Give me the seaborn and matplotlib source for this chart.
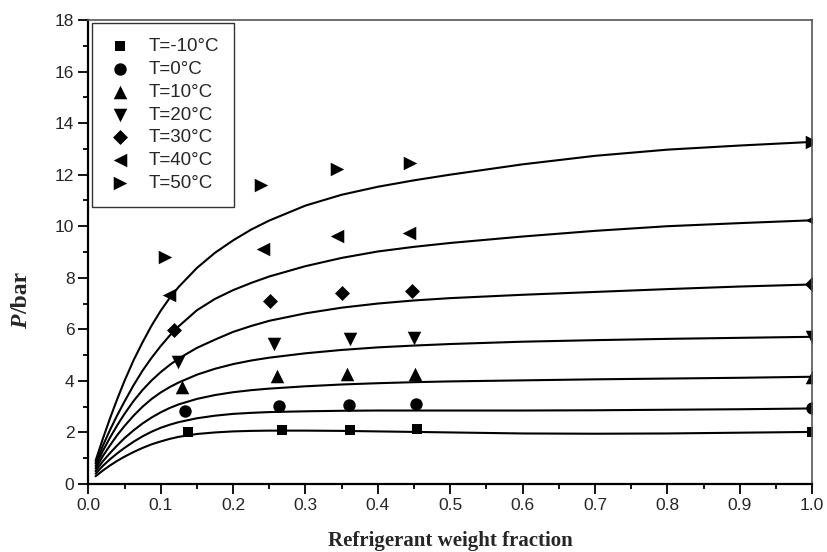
import numpy as np
import pandas as pd
import matplotlib
matplotlib.use("Agg")
import matplotlib.pyplot as plt
import seaborn as sns

# measured points (refrigerant weight fraction, pressure in bar)
temps = ["T=-10°C", "T=0°C", "T=10°C", "T=20°C", "T=30°C", "T=40°C", "T=50°C"]
markers = ["s", "o", "^", "v", "D", "<", ">"]
msizes = [62, 80, 95, 95, 58, 95, 95]

x_m10 = [0.138, 0.268, 0.362, 0.454, 1.0]
p_m10 = [2.0, 2.1, 2.1, 2.15, 2.03]
x_0 = [0.134, 0.264, 0.360, 0.453, 1.0]
p_0 = [2.82, 3.03, 3.05, 3.1, 2.93]
x_10 = [0.130, 0.261, 0.357, 0.452, 1.0]
p_10 = [3.75, 4.18, 4.25, 4.28, 4.16]
x_20 = [0.124, 0.256, 0.361, 0.450, 1.0]
p_20 = [4.74, 5.43, 5.62, 5.65, 5.69]
x_30 = [0.119, 0.251, 0.350, 0.447, 1.0]
p_30 = [5.97, 7.10, 7.39, 7.49, 7.74]
x_40 = [0.111, 0.242, 0.344, 0.443, 1.0]
p_40 = [7.33, 9.13, 9.61, 9.72, 10.23]
x_50 = [0.106, 0.238, 0.343, 0.444, 1.0]
p_50 = [8.79, 11.59, 12.2, 12.47, 13.27]

# model curves
curve_x = [0.01, 0.02, 0.03, 0.04, 0.05, 0.0625, 0.075, 0.0875, 0.1, 0.1125,
           0.125, 0.15, 0.175, 0.2, 0.225, 0.25, 0.3, 0.35, 0.4, 0.45,
           0.5, 0.6, 0.7, 0.8, 0.9, 1.0]
c_m10 = [0.3, 0.52, 0.72, 0.9, 1.06, 1.24, 1.4, 1.54, 1.65, 1.75,
         1.83, 1.94, 2.0, 2.04, 2.06, 2.07, 2.07, 2.06, 2.04, 2.02,
         2.0, 1.96, 1.95, 1.96, 1.99, 2.02]
c_0 = [0.4, 0.7, 0.96, 1.19, 1.4, 1.64, 1.85, 2.03, 2.18, 2.3,
       2.4, 2.55, 2.65, 2.72, 2.76, 2.79, 2.82, 2.84, 2.85, 2.85,
       2.85, 2.85, 2.86, 2.88, 2.9, 2.93]
c_10 = [0.5, 0.88, 1.2, 1.5, 1.78, 2.08, 2.35, 2.58, 2.78, 2.95,
        3.09, 3.3, 3.45, 3.56, 3.64, 3.7, 3.79, 3.86, 3.91, 3.95,
        3.98, 4.02, 4.06, 4.09, 4.12, 4.16]
c_20 = [0.6, 1.08, 1.5, 1.9, 2.25, 2.65, 3.0, 3.3, 3.55, 3.76,
        3.94, 4.24, 4.47, 4.65, 4.79, 4.9, 5.07, 5.2, 5.3, 5.37,
        5.43, 5.52, 5.58, 5.63, 5.67, 5.71]
c_30 = [0.7, 1.28, 1.8, 2.28, 2.72, 3.22, 3.65, 4.02, 4.34, 4.62,
        4.87, 5.28, 5.6, 5.9, 6.13, 6.33, 6.62, 6.84, 7.0, 7.12,
        7.21, 7.34, 7.45, 7.56, 7.66, 7.74]
c_40 = [0.8, 1.48, 2.1, 2.67, 3.2, 3.83, 4.4, 4.9, 5.35, 5.76,
        6.12, 6.74, 7.18, 7.52, 7.8, 8.05, 8.45, 8.77, 9.02, 9.2,
        9.35, 9.6, 9.82, 10.0, 10.12, 10.23]
c_50 = [0.9, 1.75, 2.55, 3.3, 4.0, 4.8, 5.5, 6.15, 6.72, 7.22,
        7.65, 8.38, 8.97, 9.45, 9.87, 10.22, 10.8, 11.22, 11.53, 11.78,
        12.0, 12.4, 12.73, 12.97, 13.13, 13.27]

pts_x = [x_m10, x_0, x_10, x_20, x_30, x_40, x_50]
pts_p = [p_m10, p_0, p_10, p_20, p_30, p_40, p_50]
curves = [c_m10, c_0, c_10, c_20, c_30, c_40, c_50]

sns.set_style("ticks")
plt.rcParams["font.family"] = ["Liberation Sans", "DejaVu Sans"]

fig = plt.figure(figsize=(8.27, 5.52), dpi=100)
ax = fig.add_axes([0.1068, 0.1232, 0.8752, 0.8406])

for cy in curves:
    sns.lineplot(x=curve_x, y=cy, color="black", lw=1.5, ax=ax,
                 legend=False, estimator=None, sort=False)

for lab, m, s, xs, ps in zip(temps, markers, msizes, pts_x, pts_p):
    sns.scatterplot(x=xs, y=ps, marker=m, s=s, color="black",
                    edgecolor="black", linewidth=0, label=lab, ax=ax)

ax.set_xlim(0, 1.0)
ax.set_ylim(0, 18)
ax.set_xticks(np.arange(0, 1.01, 0.1))
ax.set_xticks(np.arange(0.05, 1.0, 0.1), minor=True)
ax.set_yticks(np.arange(0, 19, 2))
ax.set_yticks(np.arange(1, 18, 2), minor=True)
ax.set_xticklabels([f"{v:.1f}" for v in np.arange(0, 1.01, 0.1)])

ax.tick_params(axis="both", which="major", direction="out", length=7,
               width=1.3, labelsize=12.5, color="black", pad=3)
ax.tick_params(axis="both", which="minor", direction="out", length=3.5,
               width=1.3, color="black")
ax.tick_params(top=False, right=False)

for side in ["left", "bottom"]:
    ax.spines[side].set_linewidth(1.6)
    ax.spines[side].set_color("black")
for side in ["top", "right"]:
    ax.spines[side].set_linewidth(1.2)
    ax.spines[side].set_color("#555555")

ax.set_xlabel("Refrigerant weight fraction", family="Liberation Serif",
              fontsize=15, weight="bold", labelpad=13)
ax.set_ylabel("")
fig.text(0.026, 0.404, "P", family="Liberation Serif", style="italic",
         weight="bold", fontsize=17, rotation=90, ha="center", va="bottom")
fig.text(0.026, 0.432, "/bar", family="Liberation Serif",
         weight="bold", fontsize=17, rotation=90, ha="center", va="bottom")

leg = ax.legend(loc="upper left", bbox_to_anchor=(0.005, 0.993),
                borderaxespad=0, frameon=True, fancybox=False,
                fontsize=13.5, labelspacing=0.3, handletextpad=0.8,
                borderpad=0.8, handlelength=1.4)
leg.get_frame().set_edgecolor("black")
leg.get_frame().set_linewidth(1.0)

fig.savefig("out.png", dpi=100)
